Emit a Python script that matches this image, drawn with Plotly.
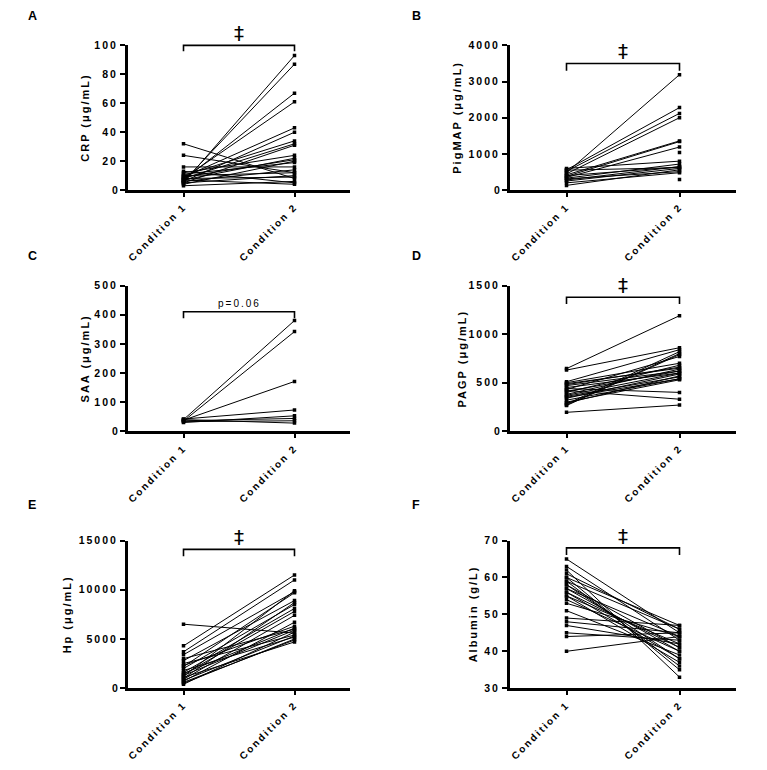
import plotly.graph_objects as go

conditions = ["Condition 1", "Condition 2"]

crp_c1 = [5, 6, 7, 8, 9, 6, 10, 8, 5, 12, 7, 9, 4, 11, 16, 6, 10, 5, 32, 24, 8, 3, 13, 7]
crp_c2 = [93, 87, 67, 61, 43, 40, 34, 32, 31, 24, 22, 21, 20, 19, 16, 14, 12, 10, 8, 12, 9, 6, 5, 4]

pigmap_c1 = [480, 560, 520, 450, 420, 380, 350, 600, 330, 280, 400, 250, 550, 310, 200, 130, None, None]
pigmap_c2 = [3190, 2280, 2120, 2000, 1360, 1340, 1190, 800, 720, 650, 640, 600, 620, 510, 480, 560, 1040, 290]

saa_c1 = [40, 35, 38, 42, 30, 36, 33, 40]
saa_c2 = [380, 342, 171, 73, 53, 44, 36, 28]

pagp_c1 = [645, 630, 510, 500, 490, 470, 450, 440, 420, 400, 380, 360, 350, 340, 300, 280, 270, 265, 195, 480, 410, 370, 430, 290, 320]
pagp_c2 = [1190, 860, 840, 700, 650, 620, 600, 400, 330, 680, 640, 560, 540, 590, 530, 820, 800, 790, 270, 660, 620, 600, 770, 570, 540]

hp_c1 = [6500, 4300, 3700, 3400, 2800, 2200, 2000, 1600, 1200, 1000, 900, 700, 1500, 1300, 800, 600, 1100, 3000, 2500, 500, 1800, 2300, 400, 1400]
hp_c2 = [5600, 11500, 11000, 9800, 8900, 9700, 8500, 8100, 9900, 8700, 7400, 6700, 6100, 5900, 5300, 4900, 4700, 6000, 5400, 5000, 5200, 6300, 5700, 7800]

alb_c1 = [65, 63, 62, 60, 60, 59, 58, 57, 57, 56, 55, 55, 53, 51, 49, 48, 45, 44, 40, 58, 56, 59, 54, 47, 61]
alb_c2 = [45, 43, 33, 47, 35, 46, 38, 44, 40, 41, 42, 37, 44, 39, 47, 45, 43, 45, 44, 41, 38, 36, 40, 42, 46]

W, H = 767, 770
FONT = "Liberation Sans, Arial, sans-serif"

panels = [
    dict(letter="A", title="CRP (μg/mL)", c1=crp_c1, c2=crp_c2, yr=[0, 100], dtick=20,
         col=0, row=0, br=100, drop=4, sig="‡"),
    dict(letter="B", title="PigMAP (μg/mL)", c1=pigmap_c1, c2=pigmap_c2, yr=[0, 4000], dtick=1000,
         col=1, row=0, br=3500, drop=200, sig="‡"),
    dict(letter="C", title="SAA (μg/mL)", c1=saa_c1, c2=saa_c2, yr=[0, 500], dtick=100,
         col=0, row=1, br=410, drop=22, sig="p=0.06"),
    dict(letter="D", title="PAGP (μg/mL)", c1=pagp_c1, c2=pagp_c2, yr=[0, 1500], dtick=500,
         col=1, row=1, br=1380, drop=70, sig="‡"),
    dict(letter="E", title="Hp (μg/mL)", c1=hp_c1, c2=hp_c2, yr=[0, 15000], dtick=5000,
         col=0, row=2, br=14100, drop=700, sig="‡"),
    dict(letter="F", title="Albumin (g/L)", c1=alb_c1, c2=alb_c2, yr=[30, 70], dtick=10,
         col=1, row=2, br=68, drop=1.9, sig="‡"),
]

# pixel geometry of the panels
xcols = [(128, 350), (510, 736)]
yrows = [(40, 187), (284, 432), (543, 693)]
title_x = [[85, 457], [85, 462], [67, 473]]
letter_x = [32, 416]
letter_y = [10, 254, 507]

fig = go.Figure()
layout = dict(width=W, height=H, autosize=False, margin=dict(l=0, r=0, t=0, b=0),
              plot_bgcolor="white", paper_bgcolor="white", showlegend=False)
shapes, annotations = [], []

for i, p in enumerate(panels):
    n = i + 1
    xa = "x" if n == 1 else f"x{n}"
    ya = "y" if n == 1 else f"y{n}"
    xs, ys = [], []
    for a, b in zip(p["c1"], p["c2"]):
        xs += [1, 2, None]
        ys += [a, b, None]
    fig.add_trace(go.Scatter(x=xs, y=ys, mode="lines+markers", xaxis=xa, yaxis=ya,
                             line=dict(color="black", width=1), connectgaps=False,
                             marker=dict(symbol="square", size=3.5, color="black"),
                             hoverinfo="skip"))
    x0, x1 = xcols[p["col"]]
    y0, y1 = yrows[p["row"]]
    layout["xaxis" + ("" if n == 1 else str(n))] = dict(
        domain=[x0 / W, x1 / W], anchor=ya, range=[0.5, 2.5],
        tickvals=[1, 2], ticktext=conditions, tickangle=-45,
        ticks="outside", ticklen=4, tickwidth=2, tickcolor="black",
        showline=True, linewidth=3, linecolor="black", showgrid=False, zeroline=False,
        tickfont=dict(family=FONT, size=10, color="black", weight="bold"), fixedrange=True)
    layout["yaxis" + ("" if n == 1 else str(n))] = dict(
        domain=[1 - y1 / H, 1 - y0 / H], anchor=xa, range=p["yr"], dtick=p["dtick"],
        tickformat="d",
        ticks="outside", ticklen=5, tickwidth=2, tickcolor="black",
        showline=True, linewidth=3, linecolor="black", showgrid=False, zeroline=False,
        tickfont=dict(family=FONT, size=10.5, color="black", weight="bold"), fixedrange=True)
    # significance bracket
    r0, r1 = p["yr"]
    fy = (p["br"] - r0) / (r1 - r0)
    fd = (p["br"] - p["drop"] - r0) / (r1 - r0)
    fx1 = (1 - 0.5) / 2.0
    fx2 = (2 - 0.5) / 2.0
    shapes.append(dict(type="path", xref=f"{xa} domain", yref=f"{ya} domain",
                       path=f"M {fx1} {fd} L {fx1} {fy} L {fx2} {fy} L {fx2} {fd}",
                       line=dict(color="black", width=1.6)))
    if p["sig"] == "‡":
        annotations.append(dict(x=1.5, y=p["br"], xref=xa, yref=ya, text="‡", showarrow=False,
                                yanchor="bottom", yshift=-2,
                                font=dict(family="DejaVu Sans", size=20, color="#000000")))
    else:
        annotations.append(dict(x=1.5, y=p["br"], xref=xa, yref=ya, text=p["sig"], showarrow=False,
                                yanchor="bottom", yshift=1,
                                font=dict(family=FONT, size=10, color="black")))
    # y axis title
    annotations.append(dict(x=title_x[p["row"]][p["col"]] / W, y=1 - (y0 + y1) / 2 / H,
                            xref="paper", yref="paper", text=p["title"], textangle=-90,
                            showarrow=False, xanchor="center", yanchor="middle",
                            font=dict(family=FONT, size=11, color="black", weight="bold")))
    # panel letter
    annotations.append(dict(x=letter_x[p["col"]] / W, y=1 - letter_y[p["row"]] / H,
                            xref="paper", yref="paper", text=p["letter"], showarrow=False,
                            xanchor="center", yanchor="middle",
                            font=dict(family=FONT, size=12.5, color="black", weight="bold")))

layout["shapes"] = shapes
layout["annotations"] = annotations
fig.update_layout(**layout)

post = """
document.body.style.margin = '0';
document.body.style.overflow = 'hidden';
function spaceText() {
  var gd = document.getElementById('{plot_id}');
  if (!gd) return;
  gd.querySelectorAll('text').forEach(function (t) {
    if (t.textContent.length > 1) { t.style.letterSpacing = '2px'; }
  });
}
spaceText();
setTimeout(spaceText, 0);
setTimeout(spaceText, 200);
"""
fig.write_html("out.html", post_script=post, config={"displayModeBar": False})
